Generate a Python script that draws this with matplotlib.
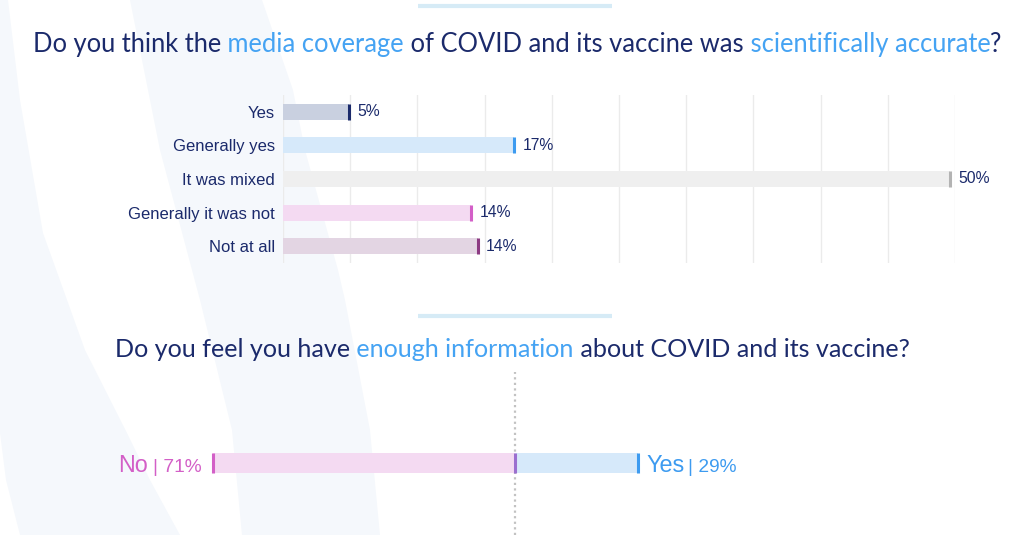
import numpy as np
import matplotlib
matplotlib.use("Agg")
import matplotlib.pyplot as plt

W, H = 1024, 535

# ---- data ----
q1_title = [("Do you think the", "#1b2a6b"), (" media coverage", "#45a3f3"),
            (" of COVID and its vaccine was", "#1b2a6b"),
            (" scientifically accurate", "#45a3f3"), ("?", "#1b2a6b")]
q1_labels = ["Yes", "Generally yes", "It was mixed", "Generally it was not", "Not at all"]
q1_values = [4.9, 17.2, 49.6, 14.0, 14.5]
q1_fill = ["#c9d0e0", "#d6e9fa", "#efefef", "#f4daf2", "#e3d5e3"]
q1_edge = ["#1b2a6b", "#3d9bf0", "#b3b3b3", "#d35fc7", "#8c3a82"]

q2_title = [("Do you feel you have", "#1b2a6b"), (" enough information", "#45a3f3"),
            (" about COVID and its vaccine?", "#1b2a6b")]
q2_no = 71
q2_yes = 29

navy = "#1b2a6b"
band = "#f5f8fc"

fig = plt.figure(figsize=(W / 100, H / 100), dpi=100)
fig.patch.set_facecolor("white")

def fx(px):
    return px / W

def fy(py):
    return 1 - py / H

# background decoration
bg = fig.add_axes([0, 0, 1, 1], zorder=0)
bg.set_xlim(0, W)
bg.set_ylim(H, 0)
bg.axis("off")
ya = np.array([0, 100, 233, 350, 433, 480, 535])
bg.fill_betweenx(ya, [0, 0, 0, 0, 0, 6, 20], [8, 20, 43, 85, 127, 150, 180], color=band, lw=0)
yb = np.array([0, 90, 150, 270, 300, 430, 535])
bg.fill_betweenx(yb, [130, 148, 160, 192, 200, 232, 242],
                 [262, 293, 305, 338, 345, 370, 380], color=band, lw=0)
bg.plot([418, 612], [6, 6], color="#d6ebf6", lw=3, solid_capstyle="butt")
bg.plot([418, 612], [316, 316], color="#d6ebf6", lw=3, solid_capstyle="butt")

renderer = fig.canvas.get_renderer()

def color_title(parts, x_px, y_px, size):
    x = x_px
    for txt, col in parts:
        t = fig.text(x / W, fy(y_px), txt, color=col, fontsize=size,
                     family="Lato", ha="left", va="baseline")
        x = t.get_window_extent(renderer).x1

color_title(q1_title, 33, 52, 18.4)
color_title(q2_title, 115, 357, 18.1)

# ---- chart 1 ----
ax1 = fig.add_axes([fx(283), fy(263), fx(955) - fx(283), (263 - 95) / H], zorder=2)
ax1.set_facecolor("none")
ypos = np.arange(len(q1_labels))
ax1.barh(ypos, q1_values, height=0.48, color=q1_fill, zorder=2)
ax1.vlines(q1_values, ypos - 0.24, ypos + 0.24, colors=q1_edge, lw=2.2, zorder=3)
for v, y in zip(q1_values, ypos):
    ax1.annotate(f"{round(v)}%", xy=(v, y), xytext=(6, 0), textcoords="offset points",
                 va="center", ha="left", color=navy, fontsize=11.3,
                 family="Liberation Sans")
ax1.set_xlim(0, 50)
ax1.set_ylim(4.5, -0.5)
ax1.set_xticks(np.arange(0, 51, 5))
ax1.set_xticklabels([])
ax1.set_yticks(ypos)
ax1.set_yticklabels(q1_labels, color=navy, fontsize=12, family="Liberation Sans")
ax1.tick_params(length=0, pad=6)
ax1.grid(axis="x", color="#ebebeb", lw=1, zorder=0)
ax1.set_axisbelow(True)
for s in ax1.spines.values():
    s.set_visible(False)

# ---- chart 2 ----
ax2 = fig.add_axes([fx(90), fy(535), fx(940) - fx(90), (535 - 372) / H], zorder=2)
ax2.set_facecolor("none")
ax2.set_xlim(-100, 100)
ax2.set_ylim(0, 1)
by = (535 - 463) / (535 - 372)
bh = 20 / (535 - 372)
ax2.axvline(0, color="#c2c2c2", lw=1.6, ls=(0, (1, 1.5)), zorder=1)
ax2.barh(by, -q2_no, left=0, height=bh, color="#f4daf2", zorder=2)
ax2.barh(by, q2_yes, left=0, height=bh, color="#d6e9fa", zorder=2)
ax2.vlines([-q2_no], by - bh / 2, by + bh / 2, colors="#d35fc7", lw=2.2, zorder=3)
ax2.vlines([q2_yes], by - bh / 2, by + bh / 2, colors="#3d9bf0", lw=2.2, zorder=3)
ax2.vlines([0], by - bh / 2, by + bh / 2, colors="#9b6fcf", lw=2.2, zorder=3)
ax2.axis("off")

# side labels for chart 2
base = fy(471.5)
t = fig.text(fx(202), base, f"| {q2_no}%", color="#d35fc7", fontsize=13.8,
             family="Liberation Sans", ha="right", va="baseline", zorder=4)
x0 = t.get_window_extent(renderer).x0
fig.text((x0 - 5) / W, base, "No", color="#d35fc7", fontsize=16.8,
         family="Liberation Sans", ha="right", va="baseline", zorder=4)
t = fig.text(fx(646), base, "Yes", color="#3d9bf0", fontsize=16.8,
             family="Liberation Sans", ha="left", va="baseline", zorder=4)
x1 = t.get_window_extent(renderer).x1
fig.text((x1 + 4) / W, base, f"| {q2_yes}%", color="#3d9bf0", fontsize=13.8,
         family="Liberation Sans", ha="left", va="baseline", zorder=4)

fig.savefig("out.png", dpi=100)
